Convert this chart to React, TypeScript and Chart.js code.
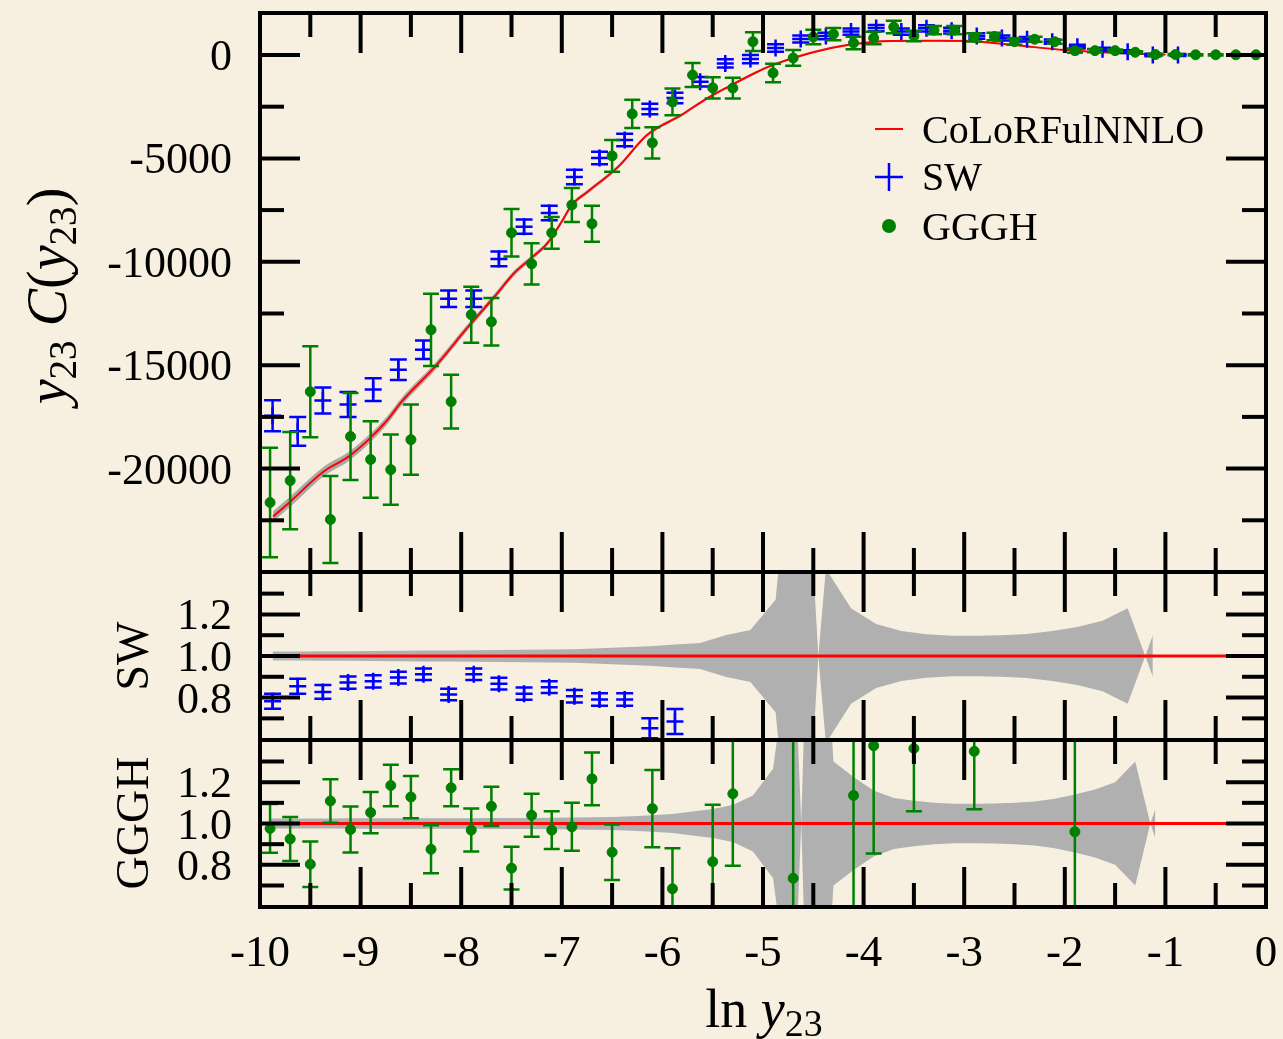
import { useEffect, useRef } from 'react';
import { Chart, registerables } from 'chart.js';

Chart.register(...registerables);

// ---------------- data ----------------
const seriesLabels = ['CoLoRFulNNLO', 'SW', 'GGGH'];

const xMajorTicks = [-10, -9, -8, -7, -6, -5, -4, -3, -2, -1, 0];
const xMinorTicks = [-9.5, -8.5, -7.5, -6.5, -5.5, -4.5, -3.5, -2.5, -1.5, -0.5];
const xTickLabels = ['-10', '-9', '-8', '-7', '-6', '-5', '-4', '-3', '-2', '-1', '0'];

const mainMajorTicks = [-20000, -15000, -10000, -5000, 0];
const mainMinorTicks = [-22500, -17500, -12500, -7500, -2500];
const mainTickLabels = ['-20000', '-15000', '-10000', '-5000', '0'];

const ratioMajorTicks = [0.8, 1.0, 1.2];
const ratioMinorTicks = [0.7, 0.9, 1.1, 1.3];
const ratioTickLabels = ['0.8', '1.0', '1.2'];

// CoLoRFulNNLO curve
const curveX = [-9.87, -9.7, -9.37, -9.12, -8.91, -8.73, -8.6, -8.26, -7.93, -7.67, -7.47, -7.3, -7.14, -7.0, -6.9, -6.74, -6.44, -6.15, -5.81, -5.58, -5.35, -5.08, -4.9, -4.53, -4.16, -3.72, -3.25, -2.99, -2.51, -2.0, -1.41, -1.0];
const curveY = [-22320, -21600, -20150, -19420, -18550, -17630, -16810, -15070, -13140, -11690, -10530, -9810, -9080, -8050, -7250, -6600, -5410, -3860, -2900, -2170, -1550, -870, -480, 100, 480, 680, 690, 680, 480, 240, 80, 20];
const curveErr = [260, 250, 230, 220, 210, 200, 190, 170, 150, 140, 130, 120, 110, 110, 100, 100, 90, 80, 70, 65, 60, 55, 50, 50, 45, 45, 40, 40, 35, 30, 25, 20];

// SW
const swX = [-9.875, -9.625, -9.375, -9.125, -8.875, -8.625, -8.375, -8.125, -7.875, -7.625, -7.375, -7.125, -6.875, -6.625, -6.375, -6.125, -5.875, -5.625, -5.375, -5.125, -4.875, -4.625, -4.375, -4.125, -3.875, -3.625, -3.375, -3.125, -2.875, -2.625, -2.375, -2.125, -1.875, -1.625, -1.375, -1.125, -0.875];
const swY = [-17440, -18200, -16710, -16900, -16180, -15220, -14250, -11790, -11790, -9860, -8300, -7640, -5900, -4980, -4110, -2610, -2080, -1300, -410, -200, 340, 770, 920, 1130, 1300, 1130, 1290, 1175, 920, 820, 760, 645, 400, 275, 160, 0, 0];
const swErr = [750, 700, 630, 600, 550, 500, 450, 400, 400, 360, 350, 350, 350, 300, 300, 250, 250, 230, 200, 200, 180, 170, 160, 150, 150, 150, 150, 140, 130, 120, 110, 100, 90, 80, 70, 60, 50];

// GGGH
const ggghX = [-9.9, -9.7, -9.5, -9.3, -9.1, -8.9, -8.7, -8.5, -8.3, -8.1, -7.9, -7.7, -7.5, -7.3, -7.1, -6.9, -6.7, -6.5, -6.3, -6.1, -5.9, -5.7, -5.5, -5.3, -5.1, -4.9, -4.7, -4.5, -4.3, -4.1, -3.9, -3.7, -3.5, -3.3, -3.1, -2.9, -2.7, -2.5, -2.3, -2.1, -1.9, -1.7, -1.5, -1.3, -1.1, -0.9, -0.7, -0.5, -0.3, -0.1];
const ggghY = [-21640, -20580, -16280, -22460, -18450, -19560, -20050, -18600, -13290, -16760, -12560, -12900, -8600, -10100, -8600, -7250, -8160, -4880, -2850, -4250, -2270, -970, -1590, -1600, 645, -870, -145, 870, 1010, 580, 820, 1350, 920, 1200, 1200, 855, 890, 645, 760, 640, 210, 210, 210, 130, 20, 20, 10, 10, 10, 10];
const ggghErr = [2650, 2350, 2200, 2100, 2100, 1850, 1700, 1700, 1750, 1300, 1350, 1150, 1150, 1000, 770, 820, 870, 770, 680, 750, 650, 580, 510, 500, 450, 450, 380, 350, 300, 300, 300, 300, 250, 200, 200, 200, 180, 150, 120, 100, 100, 80, 60, 50, 40, 30, 30, 30, 30, 30];

// ratio panel: SW / CoLoRFulNNLO
const swRatioX = [-9.875, -9.625, -9.375, -9.125, -8.875, -8.625, -8.375, -8.125, -7.875, -7.625, -7.375, -7.125, -6.875, -6.625, -6.375, -6.125, -5.875];
const swRatio = [0.782, 0.855, 0.827, 0.872, 0.878, 0.896, 0.912, 0.815, 0.912, 0.867, 0.819, 0.85, 0.806, 0.791, 0.791, 0.653, 0.685];
const swRatioErr = [0.036, 0.036, 0.033, 0.03, 0.03, 0.028, 0.028, 0.028, 0.028, 0.028, 0.03, 0.028, 0.03, 0.03, 0.03, 0.048, 0.06];
const swBandX = [-9.875, -9.625, -9.375, -9.125, -8.875, -8.625, -8.375, -8.125, -7.875, -7.625, -7.375, -7.125, -6.875, -6.625, -6.375, -6.125, -5.875, -5.625, -5.375, -5.125, -4.875, -4.625, -4.45, -4.375, -4.125, -3.875, -3.625, -3.375, -3.125, -2.875, -2.625, -2.375, -2.125, -1.875, -1.625, -1.375, -1.2, -1.125];
const swBandH = [0.022, 0.022, 0.023, 0.023, 0.024, 0.025, 0.026, 0.027, 0.028, 0.029, 0.03, 0.031, 0.033, 0.037, 0.042, 0.047, 0.055, 0.063, 0.1, 0.125, 0.27, 1.5, 0.0, 0.42, 0.23, 0.154, 0.12, 0.105, 0.097, 0.097, 0.1, 0.106, 0.12, 0.14, 0.17, 0.23, 0.0, 0.1];

// ratio panel: GGGH / CoLoRFulNNLO
const ggghRatioX = [-9.9, -9.7, -9.5, -9.3, -9.1, -8.9, -8.7, -8.5, -8.3, -8.1, -7.9, -7.7, -7.5, -7.3, -7.1, -6.9, -6.7, -6.5, -6.1, -5.9, -5.5, -5.3, -4.7, -4.1, -3.9, -3.5, -2.9, -1.9];
const ggghRatio = [0.976, 0.925, 0.803, 1.109, 0.971, 1.053, 1.184, 1.128, 0.875, 1.173, 0.968, 1.083, 0.784, 1.04, 0.968, 0.984, 1.216, 0.861, 1.072, 0.684, 0.815, 1.144, 0.735, 1.136, 1.376, 1.363, 1.349, 0.96];
const ggghRatioErr = [0.118, 0.107, 0.11, 0.105, 0.111, 0.1, 0.1, 0.102, 0.116, 0.09, 0.104, 0.095, 0.103, 0.104, 0.091, 0.116, 0.128, 0.134, 0.187, 0.196, 0.276, 0.349, 1.9, 0.63, 0.521, 0.304, 0.28, 0.47];
const ggghBandX = [-9.9, -9.7, -9.5, -9.3, -9.1, -8.9, -8.7, -8.5, -8.3, -8.1, -7.9, -7.7, -7.5, -7.3, -7.1, -6.9, -6.7, -6.5, -6.3, -6.1, -5.9, -5.7, -5.5, -5.3, -5.1, -4.9, -4.7, -4.62, -4.5, -4.3, -4.1, -3.9, -3.7, -3.5, -3.3, -3.1, -2.9, -2.7, -2.5, -2.3, -2.1, -1.9, -1.7, -1.5, -1.3, -1.15, -1.1];
const ggghBandH = [0.024, 0.024, 0.024, 0.024, 0.025, 0.025, 0.025, 0.025, 0.026, 0.026, 0.026, 0.027, 0.027, 0.027, 0.028, 0.029, 0.03, 0.032, 0.035, 0.04, 0.046, 0.058, 0.07, 0.09, 0.135, 0.265, 0.99, 0.0, 2.0, 0.3, 0.225, 0.16, 0.123, 0.11, 0.1, 0.096, 0.095, 0.097, 0.1, 0.106, 0.12, 0.14, 0.165, 0.2, 0.3, 0.0, 0.07];

// ---------------- layout / style ----------------
const W = 1283;
const H = 1039;
const AREA_LEFT = 260;
const AREA_RIGHT = 1266;
const TOP_PANEL = [13, 572];
const SW_PANEL = [572, 740];
const GGGH_PANEL = [740, 907];
const MAIN_RANGE = [-25000, 2030];
const RATIO_RANGE = [0.596, 1.404];

const FONT = '"Liberation Serif", "DejaVu Serif", serif';
const BG = '#f7f0e1';
const RED = '#ff0000';
const BLUE = '#0000ff';
const GREEN = '#008000';
const BAND = '#b0b0b0';
const SHADOW = '#a9a9a9';
const MAJOR_LEN = 40;
const MINOR_LEN = 24;
const TICK_W = 4;
const FRAME_W = 4;

type Part = { t: string; it?: boolean; sub?: boolean };

function setFont(ctx: CanvasRenderingContext2D, size: number, italic = false) {
  ctx.font = `${italic ? 'italic ' : ''}${size}px ${FONT}`;
}

function drawRich(ctx: CanvasRenderingContext2D, parts: Part[], size: number, cx: number, baseline: number) {
  const sizes = parts.map((p) => (p.sub ? size * 0.7 : size));
  const widths = parts.map((p, i) => {
    setFont(ctx, sizes[i], p.it);
    return ctx.measureText(p.t).width;
  });
  const total = widths.reduce((a, b) => a + b, 0);
  let x = cx - total / 2;
  ctx.textAlign = 'left';
  ctx.textBaseline = 'alphabetic';
  parts.forEach((p, i) => {
    setFont(ctx, sizes[i], p.it);
    ctx.fillText(p.t, x, baseline + (p.sub ? size * 0.17 : 0));
    x += widths[i];
  });
}

const yTitleParts: Part[] = [
  { t: 'y', it: true }, { t: '23', sub: true }, { t: ' ' }, { t: 'C', it: true },
  { t: '(' }, { t: 'y', it: true }, { t: '23', sub: true }, { t: ')' },
];
const xTitleParts: Part[] = [{ t: 'ln ' }, { t: 'y', it: true }, { t: '23', sub: true }];

const pts = (xs: number[], ys: number[]) => xs.map((x, i) => ({ x, y: ys[i] }));

const errorBarPlugin = {
  id: 'errorBars',
  afterDatasetDraw(chart: any, args: any) {
    const ds = chart.data.datasets[args.index];
    if (!ds.errors) return;
    const { ctx, chartArea: a } = chart;
    const meta = args.meta;
    const ys = chart.scales[meta.yAxisID];
    ctx.save();
    ctx.beginPath();
    ctx.rect(a.left, a.top, a.right - a.left, a.bottom - a.top);
    ctx.clip();
    ctx.strokeStyle = ds.errColor;
    ctx.lineWidth = 2.5;
    meta.data.forEach((el: any, j: number) => {
      const d = ds.data[j];
      const e = ds.errors[j];
      const y1 = ys.getPixelForValue(d.y + e);
      const y2 = ys.getPixelForValue(d.y - e);
      const cap = ds.capHalf;
      ctx.beginPath();
      ctx.moveTo(el.x, y1);
      ctx.lineTo(el.x, y2);
      ctx.moveTo(el.x - cap, y1);
      ctx.lineTo(el.x + cap, y1);
      ctx.moveTo(el.x - cap, y2);
      ctx.lineTo(el.x + cap, y2);
      ctx.stroke();
    });
    ctx.restore();
  },
};

type PanelCfg = {
  yMajor: number[];
  yMinor: number[];
  yLabels: string[];
  decorate: (ctx: CanvasRenderingContext2D, chart: any) => void;
};

function makeFramePlugin(cfg: PanelCfg) {
  return {
    id: 'panelFrame',
    afterDraw(chart: any) {
      const { ctx, chartArea: a } = chart;
      const xs = chart.scales.x;
      const ys = chart.scales.y;
      ctx.save();
      ctx.strokeStyle = '#000';
      ctx.lineCap = 'butt';
      ctx.lineWidth = TICK_W;
      const seg = (x1: number, y1: number, x2: number, y2: number) => {
        ctx.beginPath();
        ctx.moveTo(x1, y1);
        ctx.lineTo(x2, y2);
        ctx.stroke();
      };
      xMajorTicks.forEach((v) => {
        const p = xs.getPixelForValue(v);
        seg(p, a.top, p, a.top + MAJOR_LEN);
        seg(p, a.bottom, p, a.bottom - MAJOR_LEN);
      });
      xMinorTicks.forEach((v) => {
        const p = xs.getPixelForValue(v);
        seg(p, a.top, p, a.top + MINOR_LEN);
        seg(p, a.bottom, p, a.bottom - MINOR_LEN);
      });
      cfg.yMajor.forEach((v) => {
        const p = ys.getPixelForValue(v);
        seg(a.left, p, a.left + MAJOR_LEN, p);
        seg(a.right, p, a.right - MAJOR_LEN, p);
      });
      cfg.yMinor.forEach((v) => {
        const p = ys.getPixelForValue(v);
        seg(a.left, p, a.left + MINOR_LEN, p);
        seg(a.right, p, a.right - MINOR_LEN, p);
      });
      ctx.lineWidth = FRAME_W;
      ctx.strokeRect(a.left, a.top, a.right - a.left, a.bottom - a.top);

      ctx.fillStyle = '#000';
      setFont(ctx, 44);
      ctx.textAlign = 'right';
      ctx.textBaseline = 'alphabetic';
      cfg.yMajor.forEach((v, i) => {
        const p = ys.getPixelForValue(v);
        ctx.fillText(cfg.yLabels[i], 232, p + 15);
      });
      cfg.decorate(ctx, chart);
      ctx.restore();
    },
  };
}

function baseOptions(panel: number[], yRange: number[]) {
  return {
    responsive: false,
    animation: false,
    events: [],
    layout: { padding: { left: AREA_LEFT, right: W - AREA_RIGHT, top: panel[0], bottom: H - panel[1] } },
    plugins: { legend: { display: false }, tooltip: { enabled: false }, title: { display: false } },
    scales: {
      x: { type: 'linear', min: -10, max: 0, display: false },
      y: { type: 'linear', min: yRange[0], max: yRange[1], display: false },
    },
  };
}

function bandDatasets(xs: number[], hs: number[]) {
  return [
    {
      type: 'line', label: 'band-hi', data: xs.map((x, i) => ({ x, y: 1 + hs[i] })),
      borderWidth: 0, pointRadius: 0, fill: false, order: 5, tension: 0,
    },
    {
      type: 'line', label: 'band-lo', data: xs.map((x, i) => ({ x, y: 1 - hs[i] })),
      borderWidth: 0, pointRadius: 0, fill: '-1', backgroundColor: BAND, order: 4, tension: 0,
    },
    {
      type: 'line', label: seriesLabels[0], data: [{ x: -10, y: 1 }, { x: 0, y: 1 }],
      borderColor: RED, borderWidth: 3, pointRadius: 0, fill: false, order: 3,
    },
  ];
}

function topConfig(): any {
  return {
    type: 'scatter',
    data: {
      datasets: [
        {
          type: 'line', label: 'shadow-hi', data: curveX.map((x, i) => ({ x, y: curveY[i] + curveErr[i] })),
          borderWidth: 0, pointRadius: 0, fill: false, order: 5, cubicInterpolationMode: 'monotone',
        },
        {
          type: 'line', label: 'shadow-lo', data: curveX.map((x, i) => ({ x, y: curveY[i] - curveErr[i] })),
          borderWidth: 0, pointRadius: 0, fill: '-1', backgroundColor: SHADOW, order: 4, cubicInterpolationMode: 'monotone',
        },
        {
          type: 'line', label: seriesLabels[0], data: pts(curveX, curveY),
          borderColor: RED, borderWidth: 2, pointRadius: 0, fill: false, order: 3, cubicInterpolationMode: 'monotone',
        },
        {
          type: 'scatter', label: seriesLabels[1], data: pts(swX, swY), errors: swErr, errColor: BLUE, capHalf: 8.5,
          pointStyle: 'cross', pointRadius: 8.5, borderColor: BLUE, borderWidth: 2.5, order: 2,
        },
        {
          type: 'scatter', label: seriesLabels[2], data: pts(ggghX, ggghY), errors: ggghErr, errColor: GREEN, capHalf: 8,
          pointStyle: 'circle', pointRadius: 5, backgroundColor: GREEN, borderColor: GREEN, borderWidth: 1, order: 1,
        },
      ],
    },
    options: baseOptions(TOP_PANEL, MAIN_RANGE),
    plugins: [
      errorBarPlugin,
      makeFramePlugin({
        yMajor: mainMajorTicks,
        yMinor: mainMinorTicks,
        yLabels: mainTickLabels,
        decorate: (ctx) => {
          ctx.fillStyle = '#000';
          ctx.save();
          ctx.translate(66, 296);
          ctx.rotate(-Math.PI / 2);
          drawRich(ctx, yTitleParts, 56, 0, 0);
          ctx.restore();
          // legend
          ctx.lineCap = 'butt';
          ctx.strokeStyle = RED;
          ctx.lineWidth = 2;
          ctx.beginPath();
          ctx.moveTo(875, 129);
          ctx.lineTo(903, 129);
          ctx.stroke();
          ctx.strokeStyle = BLUE;
          ctx.lineWidth = 2.5;
          ctx.beginPath();
          ctx.moveTo(875, 177);
          ctx.lineTo(903, 177);
          ctx.moveTo(889, 163);
          ctx.lineTo(889, 191);
          ctx.stroke();
          ctx.fillStyle = GREEN;
          ctx.beginPath();
          ctx.arc(889, 226, 7, 0, Math.PI * 2);
          ctx.fill();
          ctx.fillStyle = '#000';
          setFont(ctx, 40);
          ctx.textAlign = 'left';
          ctx.textBaseline = 'alphabetic';
          ctx.fillText(seriesLabels[0], 922, 143);
          ctx.fillText(seriesLabels[1], 922, 190);
          ctx.fillText(seriesLabels[2], 922, 240);
        },
      }),
    ],
  };
}

function swConfig(): any {
  return {
    type: 'scatter',
    data: {
      datasets: [
        ...bandDatasets(swBandX, swBandH),
        {
          type: 'scatter', label: seriesLabels[1], data: pts(swRatioX, swRatio), errors: swRatioErr, errColor: BLUE, capHalf: 8.5,
          pointStyle: 'cross', pointRadius: 8.5, borderColor: BLUE, borderWidth: 2.5, order: 1,
        },
      ],
    },
    options: baseOptions(SW_PANEL, RATIO_RANGE),
    plugins: [
      errorBarPlugin,
      makeFramePlugin({
        yMajor: ratioMajorTicks,
        yMinor: ratioMinorTicks,
        yLabels: ratioTickLabels,
        decorate: (ctx) => {
          ctx.fillStyle = '#000';
          ctx.save();
          ctx.translate(148, 656);
          ctx.rotate(-Math.PI / 2);
          setFont(ctx, 46);
          ctx.textAlign = 'center';
          ctx.textBaseline = 'alphabetic';
          ctx.fillText(seriesLabels[1], 0, 0);
          ctx.restore();
        },
      }),
    ],
  };
}

function ggghConfig(): any {
  return {
    type: 'scatter',
    data: {
      datasets: [
        ...bandDatasets(ggghBandX, ggghBandH),
        {
          type: 'scatter', label: seriesLabels[2], data: pts(ggghRatioX, ggghRatio), errors: ggghRatioErr, errColor: GREEN, capHalf: 8,
          pointStyle: 'circle', pointRadius: 5, backgroundColor: GREEN, borderColor: GREEN, borderWidth: 1, order: 1,
        },
      ],
    },
    options: baseOptions(GGGH_PANEL, RATIO_RANGE),
    plugins: [
      errorBarPlugin,
      makeFramePlugin({
        yMajor: ratioMajorTicks,
        yMinor: ratioMinorTicks,
        yLabels: ratioTickLabels,
        decorate: (ctx, chart) => {
          ctx.fillStyle = '#000';
          ctx.save();
          ctx.translate(148, 823);
          ctx.rotate(-Math.PI / 2);
          setFont(ctx, 46);
          ctx.textAlign = 'center';
          ctx.textBaseline = 'alphabetic';
          ctx.fillText(seriesLabels[2], 0, 0);
          ctx.restore();
          // x tick labels
          const xs = chart.scales.x;
          setFont(ctx, 45);
          ctx.textAlign = 'center';
          ctx.textBaseline = 'alphabetic';
          xMajorTicks.forEach((v, i) => {
            ctx.fillText(xTickLabels[i], xs.getPixelForValue(v), 966);
          });
          drawRich(ctx, xTitleParts, 54, 764, 1027);
        },
      }),
    ],
  };
}

export default function App() {
  const topRef = useRef<HTMLCanvasElement | null>(null);
  const swRef = useRef<HTMLCanvasElement | null>(null);
  const ggRef = useRef<HTMLCanvasElement | null>(null);

  useEffect(() => {
    const charts = [
      new Chart(topRef.current as HTMLCanvasElement, topConfig()),
      new Chart(swRef.current as HTMLCanvasElement, swConfig()),
      new Chart(ggRef.current as HTMLCanvasElement, ggghConfig()),
    ];
    return () => charts.forEach((c) => c.destroy());
  }, []);

  const cs: any = { position: 'absolute', left: 0, top: 0, width: W, height: H };
  return (
    <div style={{ position: 'fixed', left: 0, top: 0, width: W, height: H, background: BG, overflow: 'hidden' }}>
      <canvas ref={topRef} width={W} height={H} style={cs} />
      <canvas ref={swRef} width={W} height={H} style={cs} />
      <canvas ref={ggRef} width={W} height={H} style={cs} />
    </div>
  );
}
